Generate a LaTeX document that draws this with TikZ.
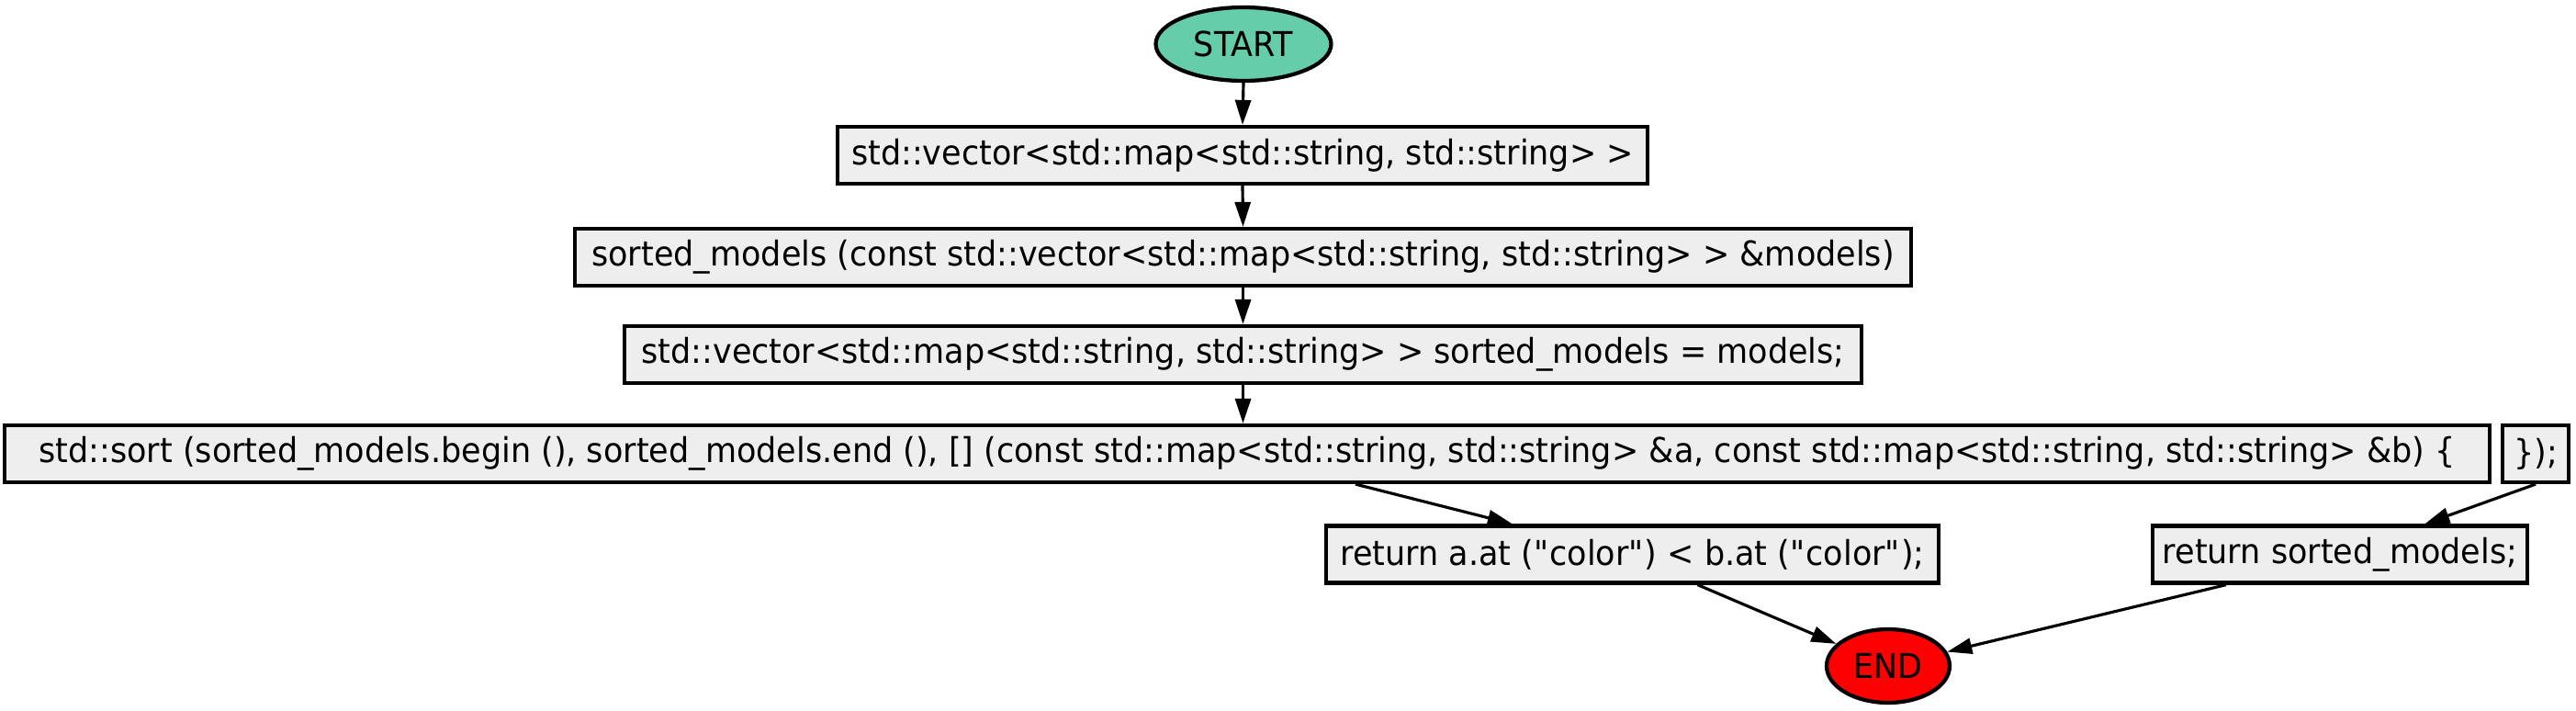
\documentclass[tikz,border=0pt]{standalone}
\usepackage{fontspec}
\setmainfont{DejaVu Sans}[FakeStretch=0.94]
\usepackage{tikz}
\usetikzlibrary{arrows.meta,shapes.geometric}

\definecolor{startgreen}{HTML}{66CDAA}
\definecolor{boxgray}{HTML}{EEEEEE}
\newcommand{\codefont}{\fontsize{10.6}{12}\selectfont}

\tikzset{
  codebox/.style={draw, line width=1.2pt, fill=boxgray, inner sep=0pt,
    minimum height=0.62cm, font=\codefont},
  term/.style={ellipse, draw, line width=1.2pt, inner sep=0pt,
    minimum height=0.80cm, font=\codefont},
  flow/.style={-{Triangle[length=0.27cm,width=0.17cm]}, line width=0.9pt},
}

\begin{document}
\begin{tikzpicture}
\useasboundingbox (0,0) rectangle (28.05,-7.74);

% Start
\node[term, fill=startgreen, minimum width=1.91cm] (start) at (13.54,-0.48) {START};

% Function body
\node[codebox, minimum width=8.82cm] (vecType) at (13.53,-1.69)
  {std::vector<std::map<std::string, std::string> >};
\node[codebox, minimum width=14.55cm] (sig) at (13.535,-2.80)
  {sorted\_models (const std::vector<std::map<std::string, std::string> > \&models)};
\node[codebox, minimum width=13.47cm] (copy) at (13.535,-3.86)
  {std::vector<std::map<std::string, std::string> > sorted\_models = models;};
\node[codebox, minimum width=27.06cm] (sortcall) at (13.58,-4.94)
  {std::sort (sorted\_models.begin (), sorted\_models.end (), [] (const std::map<std::string, std::string> \&a, const std::map<std::string, std::string> \&b) \{};
\node[codebox, minimum width=0.72cm] (close) at (27.61,-4.94) {\});};

% Returns
\node[codebox, minimum width=6.67cm] (cmp) at (17.775,-6.035)
  {return a.at (\textquotedbl color\textquotedbl) < b.at (\textquotedbl color\textquotedbl);};
\node[codebox, minimum width=4.08cm] (ret) at (25.48,-6.035) {return sorted\_models;};

% End
\node[term, fill=red, minimum width=1.34cm] (end) at (20.56,-7.25) {END};

% Arrows
\foreach \a/\b in {start/vecType, vecType/sig, sig/copy}
  \draw[flow] (\a.south) -- (\b.north);
\draw[flow] (copy.south) -- (copy.south |- sortcall.north);
\draw[flow] ([xshift=1.18cm]sortcall.south) -- (cmp);
\draw[flow] (close.south) -- (ret);
\draw[flow] ([xshift=0.71cm]cmp.south) -- (end);
\draw[flow] ([xshift=-1.24cm]ret.south) -- (end);
\end{tikzpicture}
\end{document}
